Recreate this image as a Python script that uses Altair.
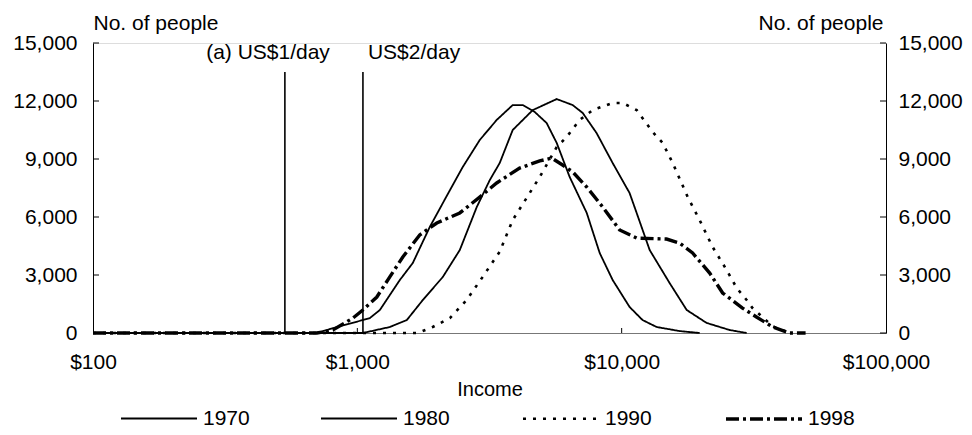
import altair as alt
import pandas as pd

FONT = "Liberation Sans"

years = ["1970", "1980", "1990", "1998"]

inc_1970 = [100, 703, 808, 1049, 1115, 1217, 1448, 1621, 1879, 2106, 2506, 2904, 3367, 3871,
            4224, 4690, 5203, 5679, 6357, 7377, 8257, 9247, 10715, 11995, 13563, 16563, 19724]
ppl_1970 = [0, 0, 250, 670, 770, 1190, 2740, 3620, 5480, 6720, 8590, 9980, 11020, 11790,
            11790, 11430, 10860, 9830, 8070, 6210, 4140, 2740, 1345, 670, 310, 100, 0]

inc_1980 = [100, 1049, 1327, 1539, 1770, 2106, 2441, 2831, 3170, 3456, 3871, 4610, 5679,
            6528, 7123, 8039, 9247, 10715, 11394, 12764, 15175, 17620, 20961, 25600, 29700]
ppl_1980 = [0, 0, 310, 670, 1710, 2900, 4290, 6520, 7910, 8790, 10500, 11530, 12100,
            11790, 11380, 10340, 8790, 7240, 6210, 4290, 2590, 1190, 520, 155, 0]

inc_1990 = [100, 1694, 1928, 2238, 2594, 2979, 3456, 3871, 4487, 4898, 5679, 6195, 6934, 7768,
            9247, 10083, 11394, 13100, 14289, 15600, 17783, 19724, 22080, 24950, 27230, 29700,
            31260, 37240, 43150]
ppl_1990 = [0, 0, 310, 770, 1710, 2900, 4200, 5840, 7240, 8070, 9620, 10140, 11020, 11530,
            11900, 11900, 11530, 10400, 9830, 8790, 7030, 5840, 4450, 3260, 2330, 1710,
            1290, 350, 0]

inc_1998 = [100, 703, 808, 962, 1049, 1185, 1327, 1486, 1722, 1998, 2441, 2904, 3367, 4111,
            4898, 5436, 5978, 6528, 7377, 8477, 9823, 11394, 14791, 16563, 18550, 21528,
            24100, 28650, 32360, 37240, 43150, 49640]
ppl_1998 = [0, 0, 155, 770, 1190, 1860, 2900, 3930, 5070, 5690, 6210, 7030, 7760, 8530,
            8900, 9050, 8690, 8330, 7550, 6520, 5330, 4910, 4860, 4650, 4140, 3100,
            2070, 1290, 830, 310, 0, 0]

poverty_income = [532, 1050]
poverty_top = [13500, 13500]
poverty_label = ["(a) US$1/day", "US$2/day"]

y_tick_values = [0, 3000, 6000, 9000, 12000, 15000]
x_tick_values = [100, 1000, 10000, 100000]
x_inner_ticks = [1000, 10000]

dash_range = [[1, 0], [1, 0], [3, 7], [13, 4, 3, 4]]
width_range = [1.8, 1.8, 2.6, 3.4]

rows = []
for yr, xs, ys in [("1970", inc_1970, ppl_1970), ("1980", inc_1980, ppl_1980),
                   ("1990", inc_1990, ppl_1990), ("1998", inc_1998, ppl_1998)]:
    for i, (a, b) in enumerate(zip(xs, ys)):
        rows.append({"year": yr, "income": a, "people": b, "order": i})
df = pd.DataFrame(rows)

pov = pd.DataFrame({"income": poverty_income, "top": poverty_top, "label": poverty_label,
                    "base": [0, 0], "v": [15000, 15000]})
yt = pd.DataFrame({"v": y_tick_values})
xt = pd.DataFrame({"income": x_inner_ticks})

x_scale = alt.Scale(type="log", domain=[100, 100000], nice=False)
y_scale = alt.Scale(domain=[0, 15000], nice=False, zero=True)

x_axis = alt.Axis(values=x_tick_values, labelExpr="'$' + format(datum.value, ',')",
                  ticks=False, tickSize=0, grid=False, labelFlush=False,
                  labelFontSize=21, labelFont=FONT, labelColor="black", labelPadding=18,
                  domainColor="#777777", domainWidth=1.2,
                  title="Income", titleFontSize=20, titleFont=FONT, titleFontWeight="normal",
                  titleColor="black", titleBaseline="alphabetic", titleY=62)

left_axis = alt.Axis(values=y_tick_values, format=",d", ticks=False, tickSize=0, grid=False,
                     labelFontSize=21, labelFont=FONT, labelColor="black", labelPadding=16,
                     domainColor="black", domainWidth=1,
                     title="No. of people", titleAngle=0, titleAlign="left", titleX=0,
                     titleY=-14, titleBaseline="alphabetic", titleFontSize=21,
                     titleFont=FONT, titleFontWeight="normal", titleColor="black")

right_axis = alt.Axis(orient="right", values=y_tick_values, format=",d", ticks=False,
                      tickSize=0, grid=False,
                      labelFontSize=21, labelFont=FONT, labelColor="black", labelPadding=12,
                      domainColor="black", domainWidth=1,
                      title="No. of people", titleAngle=0, titleAlign="right", titleX=-3,
                      titleY=-14, titleBaseline="alphabetic", titleFontSize=21,
                      titleFont=FONT, titleFontWeight="normal", titleColor="black")

legend = alt.Legend(title=None, orient="none", legendX=26, legendY=336, direction="horizontal",
                    columns=4, symbolType="stroke", symbolSize=5776, symbolStrokeColor="black",
                    labelFontSize=21, labelFont=FONT, labelColor="black", labelOffset=4,
                    columnPadding=67)

X = alt.X("income:Q", scale=x_scale, axis=x_axis)

lines = alt.Chart(df).mark_line(color="black").encode(
    x=X,
    y=alt.Y("people:Q", scale=y_scale, axis=left_axis),
    strokeDash=alt.StrokeDash("year:N", scale=alt.Scale(type="ordinal", domain=years,
                                                        range=dash_range),
                              legend=legend),
    strokeWidth=alt.StrokeWidth("year:N", scale=alt.Scale(type="ordinal", domain=years,
                                                          range=width_range),
                                legend=legend),
    order="order:Q",
)

vrules = alt.Chart(pov).mark_rule(color="black", strokeWidth=1.6).encode(
    x=X,
    y=alt.Y("base:Q", scale=y_scale, axis=None),
    y2="top:Q",
)

txt_left = alt.Chart(pov).transform_filter(alt.datum.label == poverty_label[0]).mark_text(
    align="right", baseline="alphabetic", dx=45, dy=16, fontSize=21, font=FONT, color="black"
).encode(
    x=X,
    y=alt.Y("v:Q", scale=y_scale, axis=None),
    text="label:N",
)

txt_right = alt.Chart(pov).transform_filter(alt.datum.label == poverty_label[1]).mark_text(
    align="left", baseline="alphabetic", dx=5, dy=16, fontSize=21, font=FONT, color="black"
).encode(
    x=X,
    y=alt.Y("v:Q", scale=y_scale, axis=None),
    text="label:N",
)

lticks = alt.Chart(yt).mark_rule(color="black", strokeWidth=1).encode(
    y=alt.Y("v:Q", scale=y_scale, axis=None),
    x=alt.value(0), x2=alt.value(6),
)
rticks = alt.Chart(yt).mark_rule(color="black", strokeWidth=1).encode(
    y=alt.Y("v:Q", scale=y_scale, axis=right_axis),
    x=alt.value(787), x2=alt.value(793),
)
bticks = alt.Chart(xt).mark_rule(color="black", strokeWidth=1).encode(
    x=X,
    y=alt.value(285), y2=alt.value(290),
)

chart = alt.layer(vrules, lines, txt_left, txt_right, lticks, rticks, bticks).resolve_axis(
    y="independent"
).properties(
    width=793, height=290,
    padding={"left": 85, "top": 35, "right": 78, "bottom": 94},
    autosize=alt.AutoSizeParams(type="none"),
).configure_view(stroke=None).configure(font=FONT)

chart.save("out.html", embed_options={"renderer": "svg", "actions": False})
